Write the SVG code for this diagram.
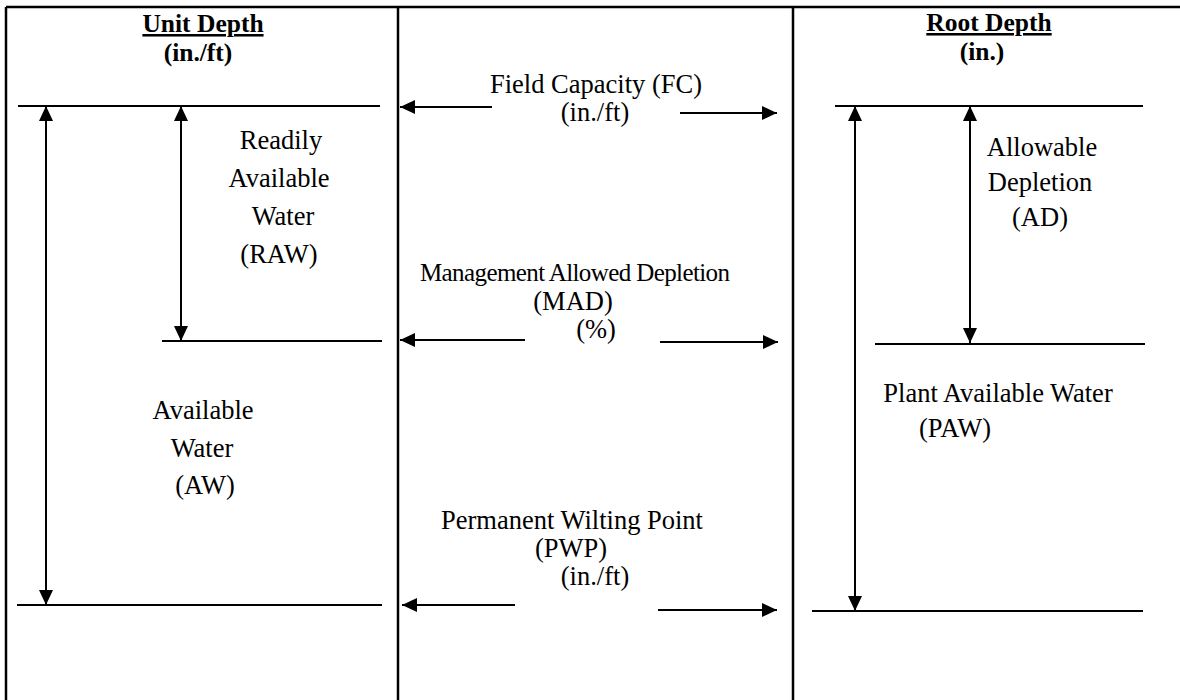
<svg xmlns="http://www.w3.org/2000/svg" width="1180" height="700" viewBox="0 0 1180 700">
<defs>
<marker id="ah" viewBox="0 0 15 14" refX="15" refY="7" markerWidth="15" markerHeight="14" markerUnits="userSpaceOnUse" orient="auto-start-reverse">
<path d="M0,0 L15,7 L0,14 Z" fill="#000"/>
</marker>
<style>
.t{font-family:"Liberation Serif","Times New Roman",serif;font-size:26.5px;fill:#000;text-anchor:middle}
.h{font-weight:bold;font-size:25.5px}
.u{text-decoration:underline}
.ln{stroke:#000;stroke-width:2;fill:none}
.bd{stroke:#000;stroke-width:2.5;fill:none}
.ar{stroke:#000;stroke-width:2;fill:none;marker-end:url(#ah)}
.da{stroke:#000;stroke-width:2;fill:none;marker-start:url(#ah);marker-end:url(#ah)}
</style>
</defs>
<rect width="1180" height="700" fill="#fff"/>
<g id="frame">
<path class="bd" d="M6,7 H1180 M6,7 V700 M398,7 V700 M793,7 V700"/>
</g>
<g id="unit-depth">
<text class="t h u" x="203" y="32">Unit Depth</text>
<text class="t h" x="198" y="61">(in./ft)</text>
<path class="ln" d="M18,106 H380 M162,341 H382 M17,605 H382"/>
</g>
<g id="root-depth">
<text class="t h u" x="989" y="31">Root Depth</text>
<text class="t h" x="982" y="60">(in.)</text>
<path class="ln" d="M835,106 H1143 M875,344 H1145 M812,611 H1143"/>
</g>
<g id="raw">
<text class="t" x="281" y="149">Readily</text>
<text class="t" x="279" y="187">Available</text>
<text class="t" x="283" y="225">Water</text>
<text class="t" x="279" y="263">(RAW)</text>
</g>
<g id="aw">
<text class="t" x="203" y="419">Available</text>
<text class="t" x="202" y="457">Water</text>
<text class="t" x="205" y="494">(AW)</text>
</g>
<g id="ad">
<text class="t" x="1042" y="156">Allowable</text>
<text class="t" x="1040" y="191">Depletion</text>
<text class="t" x="1040" y="226">(AD)</text>
</g>
<g id="paw">
<text class="t" x="998" y="402">Plant Available Water</text>
<text class="t" x="955" y="437">(PAW)</text>
</g>
<g id="fc">
<text class="t" x="596" y="93">Field Capacity (FC)</text>
<text class="t" x="595" y="121">(in./ft)</text>
</g>
<g id="mad">
<text class="t" x="575" y="281" style="font-size:25px" textLength="310" lengthAdjust="spacing">Management Allowed Depletion</text>
<text class="t" x="573" y="310">(MAD)</text>
<text class="t" x="596" y="338">(%)</text>
</g>
<g id="pwp">
<text class="t" x="572" y="529">Permanent Wilting Point</text>
<text class="t" x="571" y="557">(PWP)</text>
<text class="t" x="595" y="585">(in./ft)</text>
</g>
<g id="connectors">
<line class="da" x1="46" y1="106" x2="46" y2="605"/>
<line class="da" x1="181" y1="106" x2="181" y2="341"/>
<line class="da" x1="855" y1="106" x2="855" y2="611"/>
<line class="da" x1="970" y1="106" x2="970" y2="343"/>
<line class="ar" x1="492" y1="107" x2="400" y2="107"/>
<line class="ar" x1="680" y1="113" x2="777" y2="113"/>
<line class="ar" x1="525" y1="340" x2="400" y2="340"/>
<line class="ar" x1="660" y1="342" x2="778" y2="342"/>
<line class="ar" x1="515" y1="605" x2="402" y2="605"/>
<line class="ar" x1="658" y1="610" x2="777" y2="610"/>
</g>
</svg>
